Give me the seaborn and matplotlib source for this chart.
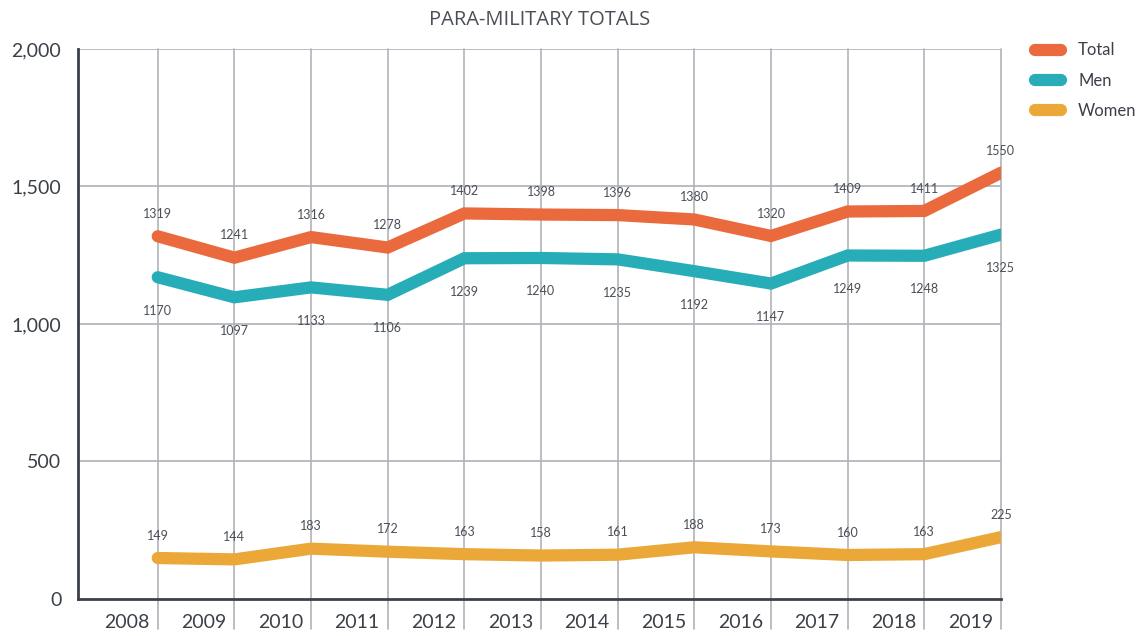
import numpy as np
import pandas as pd
import matplotlib
matplotlib.use("Agg")
import matplotlib.pyplot as plt
import seaborn as sns
from matplotlib.lines import Line2D

years = list(range(2008, 2020))
total = [1319, 1241, 1316, 1278, 1402, 1398, 1396, 1380, 1320, 1409, 1411, 1550]
men = [1170, 1097, 1133, 1106, 1239, 1240, 1235, 1192, 1147, 1249, 1248, 1325]
women = [149, 144, 183, 172, 163, 158, 161, 188, 173, 160, 163, 225]
series_names = ["Total", "Men", "Women"]
colors = {"Total": "#EA693D", "Men": "#27ADB8", "Women": "#EBA838"}

df = pd.DataFrame({"year": years * 3,
                   "value": total + men + women,
                   "series": ["Total"] * 12 + ["Men"] * 12 + ["Women"] * 12})

sns.set_style("white")
plt.rcParams['font.family'] = ['Lato', 'DejaVu Sans']
dark = "#3b4048"

fig = plt.figure(figsize=(11.42, 6.36), dpi=100)
ax = fig.add_axes([0.0683, 0.0582, 0.8082, 0.8648])

# grid
for y in [500, 1000, 1500, 2000]:
    ax.axhline(y, color="#b9bcc2", lw=1.4, zorder=0)
for x in years:
    ax.axvline(x, ymin=-0.055, ymax=1, color="#b0b3b9", lw=1.2, zorder=0, clip_on=False)

sns.lineplot(data=df, x="year", y="value", hue="series", hue_order=series_names,
             palette=colors, lw=8.8, ax=ax, legend=False, zorder=3,
             solid_capstyle="round", solid_joinstyle="miter")

# value labels
offsets = {"Total": 16, "Men": -24, "Women": 16}
for name, vals in zip(series_names, [total, men, women]):
    for x, v in zip(years, vals):
        ax.annotate(str(v), (x, v), xytext=(0, offsets[name]), textcoords="offset points",
                    ha="center", va="center", fontsize=9, color="#4a4f57", zorder=4)

ax.set_xlim(2006.96, 2019)
ax.set_ylim(0, 2000)
ax.set_yticks([0, 500, 1000, 1500, 2000])
ax.set_yticklabels(["0", "500", "1,000", "1,500", "2,000"], fontsize=14, color=dark)
ax.set_xticks([y - 0.4 for y in years])
ax.set_xticklabels([str(y) for y in years], fontsize=14, color=dark)
ax.set_xticks([y + 0.5 for y in years[:-1]] + [2019], minor=True)
ax.tick_params(axis="x", which="major", length=0, pad=11)
ax.tick_params(axis="x", which="minor", length=3, width=1.5, color=dark, direction="out")
ax.tick_params(axis="y", length=0, pad=12)
ax.set_xlabel("")
ax.set_ylabel("")

for s in ["top", "right"]:
    ax.spines[s].set_visible(False)
for s in ["left", "bottom"]:
    ax.spines[s].set_color(dark)
    ax.spines[s].set_linewidth(2)

ax.set_title("PARA-MILITARY TOTALS", fontsize=14.5, color="#4a4f57", pad=17,
             fontfamily=['Open Sans', 'DejaVu Sans'])

handles = [Line2D([0], [0], color=colors[n], lw=8.8, solid_capstyle="round") for n in series_names]
fig.legend(handles, series_names, loc="upper left", bbox_to_anchor=(0.893, 0.957),
           frameon=False, fontsize=12, handlelength=1.6, handletextpad=1.0,
           labelspacing=0.85, labelcolor=dark)

fig.savefig("out.png", dpi=100)
